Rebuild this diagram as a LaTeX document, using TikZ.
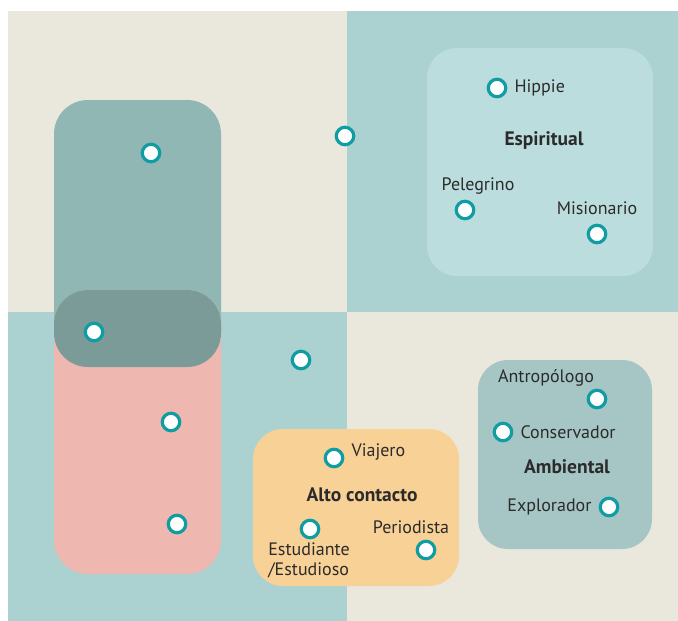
\documentclass[tikz,border=0pt]{standalone}
\usepackage{fontspec}
\setmainfont{PT Sans}
\usetikzlibrary{positioning}
\definecolor{crema}{HTML}{EAE7DD}
\definecolor{agua}{HTML}{ABD1D1}
\definecolor{aguaclaro}{HTML}{BCDDDD}
\definecolor{verdoso}{HTML}{91B7B4}
\definecolor{solape}{HTML}{7B9B98}
\definecolor{rosa}{HTML}{EEB8B1}
\definecolor{arena}{HTML}{F8D196}
\definecolor{gris}{HTML}{A6C6C6}
\definecolor{turquesa}{HTML}{0F9CA2}
\definecolor{tinta}{HTML}{2B2B2B}
\tikzset{
  punto/.style = {circle, draw=turquesa, fill=white, line width=3.2pt,
                  minimum size=17.5pt, inner sep=0pt},
  caja/.style = {rectangle, rounded corners=34pt, inner sep=0pt, outer sep=0pt},
  etiqueta/.style = {font=\fontsize{18}{20}\selectfont, text=tinta, inner sep=1pt},
  titulo/.style = {etiqueta, font=\fontsize{19.5}{21}\selectfont\bfseries},
}

\begin{document}
\begin{tikzpicture}[x=1pt, y=-1pt, node distance=6pt]

  \fill[white] (0,0) rectangle (678,621);
  \useasboundingbox (0,0) rectangle (678,621);
  % cuadrantes
  \fill[crema] (8,11) rectangle (347,312);
  \fill[agua] (347,11) rectangle (678,312);
  \fill[agua] (8,312) rectangle (347,621);
  \fill[crema] (347,312) rectangle (678,621);

  % grupos
  \node (grupoA) [caja, fill=verdoso, minimum width=167pt, minimum height=267pt] at (137.5,233.5) {};
  \node (grupoB) [caja, fill=rosa, minimum width=167pt, minimum height=284pt] at (137.5,432) {};
  \begin{scope}
    \clip[rounded corners=34pt] (grupoA.south west) rectangle (grupoA.north east);
    \fill[solape, rounded corners=34pt] (grupoB.south west) rectangle (grupoB.north east);
  \end{scope}
  \node (espiritual) [caja, rounded corners=30pt, fill=aguaclaro, minimum width=226pt, minimum height=228pt] at (540,162) {};
  \node (contacto) [caja, rounded corners=30pt, fill=arena, minimum width=206pt, minimum height=157pt] at (356,507.5) {};
  \node (ambiental) [caja, rounded corners=30pt, fill=gris, minimum width=174pt, minimum height=189pt] at (565,454.5) {};

  % titulos
  \node[titulo] at (544,141) {Espiritual};
  \node[titulo] at (362,495) {Alto contacto};
  \node[titulo] at (567,467) {Ambiental};

  % puntos sin nombre
  \node (d1) [punto] at (151,153) {};
  \node (d2) [punto] at (345,136) {};
  \node (d3) [punto] at (94,332) {};
  \node (d4) [punto] at (301,360) {};
  \node (d5) [punto] at (171,422) {};
  \node (d6) [punto] at (177,524) {};

  % puntos con nombre
  \node (hippie) [punto] at (497,88) {};
  \node (pelegrino) [punto] at (465,210) {};
  \node (misionario) [punto] at (597,234) {};
  \node (viajero) [punto] at (334,458) {};
  \node (estudiante) [punto] at (310,529) {};
  \node (periodista) [punto] at (426,550) {};
  \node (antropologo) [punto] at (597,399) {};
  \node (conservador) [punto] at (503,432) {};
  \node (explorador) [punto] at (609,507) {};

  \node[etiqueta, right=of hippie] {Hippie};
  \node[etiqueta, above=4pt of pelegrino, xshift=13pt] {Pelegrino};
  \node[etiqueta, above=8pt of misionario] {Misionario};
  \node[etiqueta, right=of viajero, yshift=6pt] {Viajero};
  \node[etiqueta, below=2pt of estudiante, xshift=-1pt, align=left] {Estudiante\\/Estudioso};
  \node[etiqueta, above=5pt of periodista, xshift=-15pt] {Periodista};
  \node[etiqueta, above=1pt of antropologo, xshift=-51pt] {Antropólogo};
  \node[etiqueta, right=of conservador] {Conservador};
  \node[etiqueta, left=of explorador] {Explorador};

\end{tikzpicture}
\end{document}
